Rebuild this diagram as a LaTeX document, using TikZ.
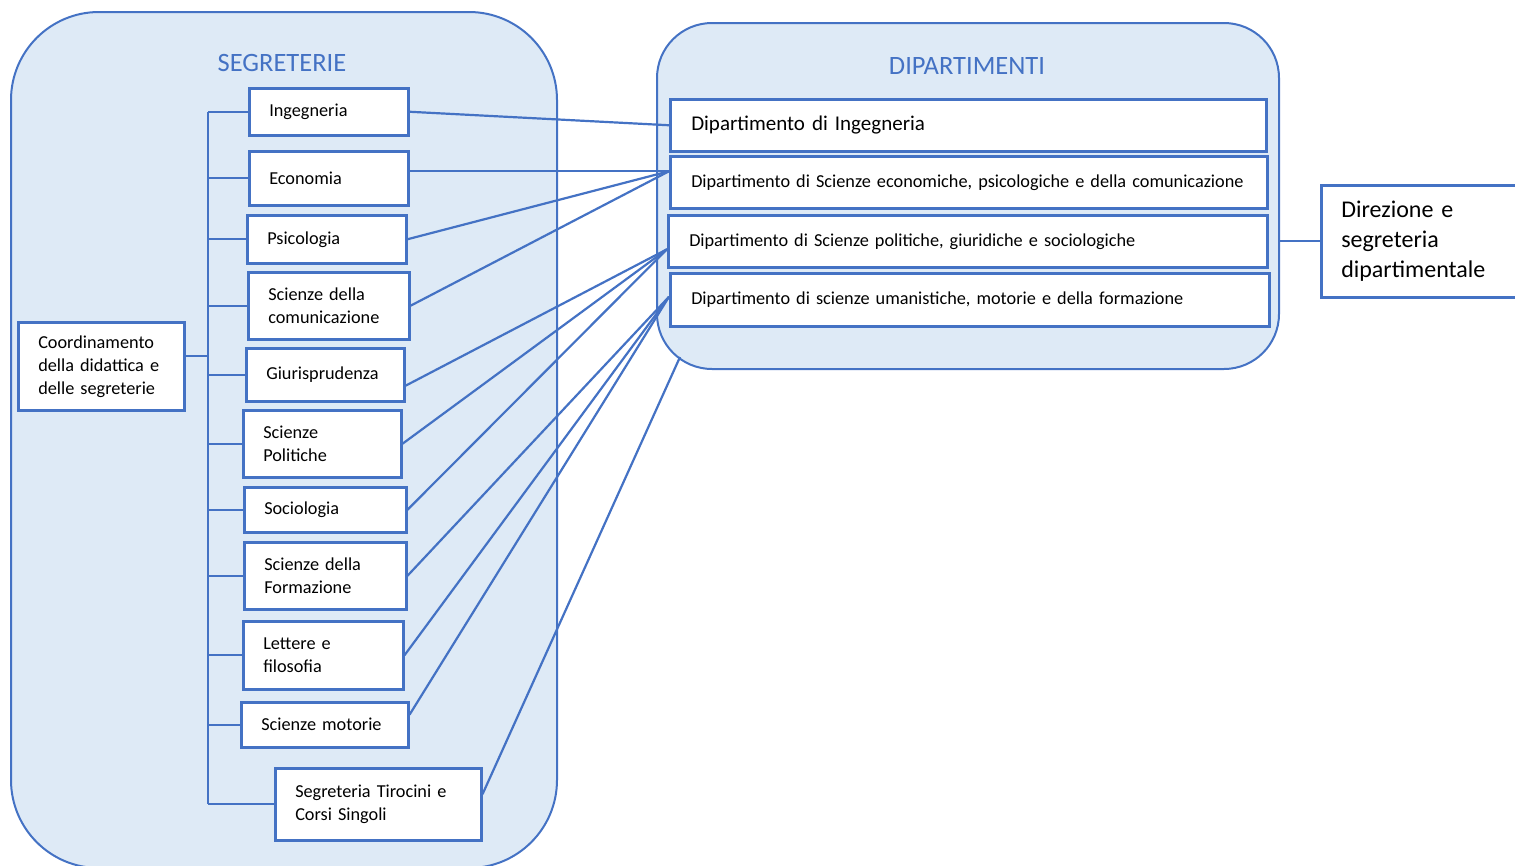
\documentclass[tikz,border=0pt]{standalone}
\usepackage{fontspec}
\setmainfont{Carlito}
\definecolor{blu}{HTML}{4472C4}
\definecolor{celeste}{HTML}{DEEAF6}
\tikzset{
  cont/.style={draw=blu, fill=celeste, line width=2pt, anchor=north west, inner sep=0pt},
  titolo/.style={text=blu, font=\fontsize{26.5}{30}\selectfont},
  sbox/.style={draw=blu, fill=white, line width=2.5pt, anchor=north west, align=left,
    inner xsep=20pt, inner ysep=0pt, font=\fontsize{18.25}{23}\selectfont},
  dbox/.style={sbox, inner xsep=21pt},
  link/.style={draw=blu, line width=2.2pt},
}
\begin{document}
\begin{tikzpicture}[x=1pt, y=-1pt]
  \useasboundingbox (0,0) rectangle (1515,865);
  % contenitori
  \node[cont, rounded corners=88pt, minimum width=546pt, minimum height=856pt] (segbg) at (10,11) {};
  \node[cont, rounded corners=55pt, minimum width=622pt, minimum height=346pt] (dipbg) at (656,22) {};
  \node[titolo] (segtit) at (282,63) {SEGRETERIE};
  \node[titolo] (diptit) at (967,66) {DIPARTIMENTI};
  % segreterie
  \node[sbox, text width=119pt, minimum height=47pt] (ing) at (248,87) {Ingegneria};
  \node[sbox, text width=119pt, minimum height=54pt] (eco) at (248,150) {Economia};
  \node[sbox, text width=119pt, minimum height=48pt] (psi) at (246,214) {Psicologia};
  \node[sbox, text width=121pt, minimum height=67pt] (com) at (247,271) {Scienze della\\comunicazione};
  \node[sbox, text width=118pt, minimum height=53pt] (giu) at (245,347) {Giurisprudenza};
  \node[sbox, text width=118pt, minimum height=67pt] (pol) at (242,409) {Scienze\\Politiche};
  \node[sbox, text width=122pt, minimum height=45pt] (soc) at (243,486) {Sociologia};
  \node[sbox, text width=122pt, minimum height=67pt] (frm) at (243,541) {Scienze della\\Formazione};
  \node[sbox, text width=120pt, minimum height=68pt] (let) at (242,620) {Lettere e\\filosofia};
  \node[sbox, text width=127pt, minimum height=45pt] (mot) at (240,701) {Scienze motorie};
  \node[sbox, text width=166pt, minimum height=72pt] (tir) at (274,767) {Segreteria Tirocini e\\Corsi Singoli};
  \node[sbox, text width=126pt, minimum height=88pt] (coo) at (17,321) {Coordinamento\\della didattica e\\delle segreterie};
  % dipartimenti
  \node[dbox, text width=554pt, minimum height=52pt, font=\fontsize{21}{26}\selectfont] (dip1) at (669,98) {Dipartimento di Ingegneria};
  \node[dbox, text width=555pt, minimum height=52pt] (dip2) at (669,155) {Dipartimento di Scienze economiche, psicologiche e della comunicazione};
  \node[dbox, text width=557pt, minimum height=52pt] (dip3) at (667,214) {Dipartimento di Scienze politiche, giuridiche e sociologiche};
  \node[dbox, text width=557pt, minimum height=53pt] (dip4) at (669,272) {Dipartimento di scienze umanistiche, motorie e della formazione};
  \node[sbox, text width=180pt, minimum height=112pt, font=\fontsize{24}{30}\selectfont] (dir) at (1320,184) {Direzione e\\segreteria\\dipartimentale};
  \coordinate (bus) at (208,0);
  \coordinate (tirend) at (680,357);
  % albero a sinistra
  \draw[link] (ing.west -| bus) -- (tir.west -| bus);
  \foreach \s in {ing,eco,psi,com,giu,pol,soc,frm,let,mot,tir}
    \draw[link] (\s.west) -- (\s.west -| bus);
  \draw[link] ([yshift=10pt]coo.east) -- ([yshift=10pt]coo.east -| bus);
  % collegamenti ai dipartimenti
  \draw[link] (ing.east) -- (dip1.west);
  \draw[link] ([yshift=7pt]eco.east) -- ([yshift=11pt]dip2.west);
  \foreach \s in {psi,com}
    \draw[link] (\s.east) -- ([yshift=11pt]dip2.west);
  \draw[link] ([yshift=-11pt]giu.east) -- ([yshift=-8pt]dip3.west);
  \foreach \s in {pol,soc}
    \draw[link] (\s.east) -- ([yshift=-8pt]dip3.west);
  \foreach \s in {frm,let}
    \draw[link] (\s.east) -- ([yshift=3pt]dip4.west);
  \draw[link] ([yshift=10pt]mot.east) -- ([yshift=3pt]dip4.west);
  \draw[link] ([yshift=10pt]tir.east) -- (tirend);
  \draw[link] (dir.west -| dipbg.east) -- (dir.west);
\end{tikzpicture}
\end{document}
